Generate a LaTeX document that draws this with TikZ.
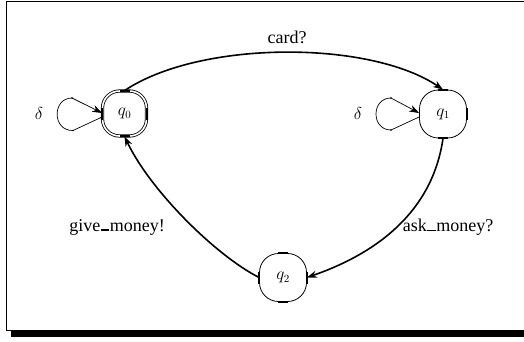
\documentclass[tikz,border=0pt]{standalone}
\usepackage{fontspec}
\setmainfont{Liberation Serif}
\usetikzlibrary{arrows.meta}
\newcommand{\usc}{\kern0.5pt\rule{8.5pt}{1.6pt}\kern0.5pt}
\begin{document}
\begin{tikzpicture}[x=1pt,y=-1pt,
  state/.style={draw, rounded corners=19pt, minimum width=47pt, minimum height=48pt,
    line width=0.8pt, inner sep=0pt, font=\fontsize{16}{18}\selectfont},
  final/.style={state, double, double distance=1.6pt, minimum width=44pt, minimum height=45pt, rounded corners=17pt},
  trans/.style={line width=1.6pt, -{Stealth[length=10pt,width=7pt]}},
  loopline/.style={line width=0.7pt},
  looparrow/.style={line width=0.7pt, -{Stealth[length=10pt,width=7pt]}},
  tick/.style={line width=2pt},
  lbl/.style={font=\fontsize{18}{20}\selectfont, inner sep=0pt}]
\useasboundingbox (0,0) rectangle (524,341);
% frame with shadow
\fill (11,330) rectangle (530,337);
\draw[line width=1.4pt] (530,1.5) -- (6.5,1.5) -- (6.5,330.5) -- (530,330.5);
% states
\node[final] (q0) at (124.5,113.5) {$q_0$};
\node[state] (q1) at (443,114) {$q_1$};
\node[state] (q2) at (283,277.5) {$q_2$};
% ticks
\foreach \n/\a in {q0/north,q0/south,q1/north,q1/south,q2/north,q2/south}{
  \draw[tick] ([xshift=-5pt]\n.\a) -- ([xshift=5pt]\n.\a);}
\foreach \n/\a in {q0/west,q0/east,q1/east,q2/west,q2/east}{
  \draw[tick] ([yshift=-6pt]\n.\a) -- ([yshift=6pt]\n.\a);}
% transitions
\draw[trans] (q0.north) .. controls (200,40) and (370,40) .. (q1.north);
\draw[trans] (q1.south) .. controls (432,215) and (372,255) .. (q2.east);
\draw[trans] (q2.west) .. controls (215,255) and (150,190) .. (q0.south);
% loops
\coordinate (la0) at (72,98);
\coordinate (lb0) at (73,130.5);
\draw[looparrow] (la0) -- ([yshift=0.5pt]q0.west);
\draw[loopline] ([yshift=-3.5pt]q0.west) -- (lb0);
\draw[loopline] (la0) .. controls (52,98) and (52,131) .. (lb0);
\fill (la0) circle (0.9pt) (lb0) circle (0.9pt);
\coordinate (la1) at (391,98);
\coordinate (lb1) at (391,130);
\draw[looparrow] (la1) -- ([yshift=1pt]q1.west);
\draw[loopline] ([yshift=-3pt]q1.west) -- (lb1);
\draw[loopline] (la1) .. controls (371,98) and (371,130) .. (lb1);
\fill (la1) circle (0.9pt) (lb1) circle (0.9pt);
% labels
\node[lbl] (d0) at (39,113) {$\delta$};
\node[lbl] (d1) at (358,113) {$\delta$};
\node[lbl] (lc) at (287,37) {card?};
\node[lbl] (lg) at (117,227) {give\usc money!};
\node[lbl] (la) at (448,227) {ask\usc money?};
\end{tikzpicture}
\end{document}
